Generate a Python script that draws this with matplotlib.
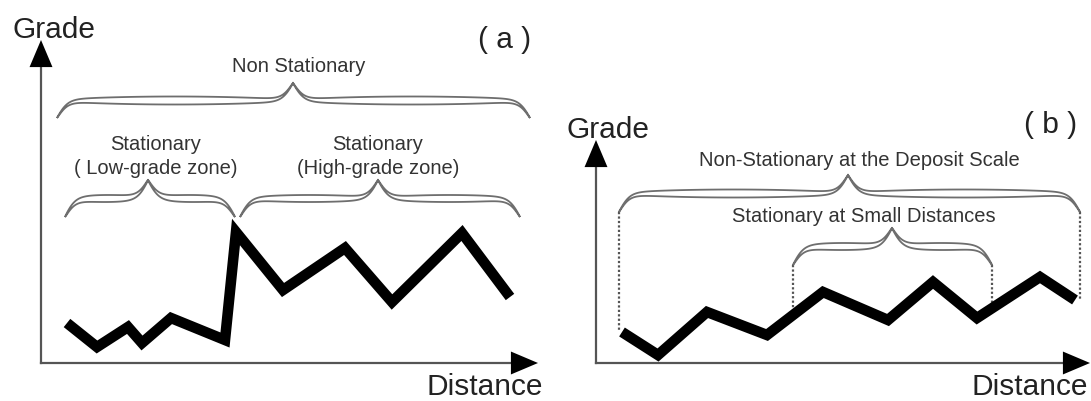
import numpy as np
import matplotlib.pyplot as plt

plt.rcParams['font.family'] = ['Liberation Sans', 'DejaVu Sans']

# grade profiles (distance, grade in arbitrary units)
a_dist = [26, 56, 87, 101, 130, 184, 195, 242, 304, 351, 421, 469]
a_grade = [40, 16, 36, 20, 45, 23, 131, 73, 115, 61, 130, 66]

b_dist = [26, 62, 111, 171, 227, 292, 337, 381, 444, 479]
b_grade = [31, 8, 51, 28, 71, 43, 81, 45, 86, 63]

# labelled zones: (start, end, tip) along distance
a_zones = [(16, 489, 252), (24, 194, 107), (199, 479, 337)]
b_zones = [(23, 484, 252), (197, 396, 296)]

TXT = '#333333'
BRACE = '#6e6e6e'


def brace(ax, x0, x1, xm, y_end, y_tip, thick=6):
    # outlined curly brace, tip pointing up
    u = np.linspace(0, 1, 300)
    half = max(xm - x0, x1 - xm)
    k = half / 5.5
    s = 1 / (1 + np.exp(-k * u)) + 1 / (1 + np.exp(-k * (u - 1))) - 0.5
    s = (s - s.min()) / (s.max() - s.min())
    y = y_end + s * (y_tip - y_end)
    th = thick * np.sin(np.pi * u) ** 0.6
    xl = x0 + u * (xm - x0)
    xr = x1 - u * (x1 - xm)
    xs = np.concatenate([xl, xr[::-1], xr, xl[::-1]])
    ys = np.concatenate([y + th / 2, (y + th / 2)[::-1], y - th / 2, (y - th / 2)[::-1]])
    ax.fill(xs, ys, facecolor='white', edgecolor=BRACE, lw=1.3, clip_on=False, zorder=3)


def axes_arrows(ax, xtip, ytip, head=27):
    ax.plot([0, 0], [0, ytip - head + 2], color='#555555', lw=1.6, clip_on=False)
    ax.plot([0, xtip - head + 2], [0, 0], color='#555555', lw=1.6, clip_on=False)
    ap = dict(width=0.01, headwidth=16.5, headlength=19.5, facecolor='black',
              edgecolor='none', shrink=0)
    ax.annotate('', xy=(0, ytip), xytext=(0, ytip - head), arrowprops=ap, annotation_clip=False)
    ax.annotate('', xy=(xtip, 0), xytext=(xtip - head, 0), arrowprops=ap, annotation_clip=False)


fig = plt.figure(figsize=(10.91, 4.01), dpi=100)

# ---- panel (a)
ax1 = fig.add_axes([0, 0, 545 / 1091, 1])
ax1.set_xlim(-41, 504)
ax1.set_ylim(-38, 363)
ax1.axis('off')
axes_arrows(ax1, 497, 323)
ax1.plot(a_dist, a_grade, color='black', lw=7.6, solid_joinstyle='miter',
         solid_capstyle='butt', zorder=4)
for x0, x1, xm in a_zones[:1]:
    brace(ax1, x0, x1, xm, 245, 280, thick=8)
for x0, x1, xm in a_zones[1:]:
    brace(ax1, x0, x1, xm, 146, 183, thick=7)
ax1.text(12.5, 333, 'Grade', fontsize=21.5, color='#222222', ha='center', va='center')
ax1.text(464, 323, '( a )', fontsize=21.5, color='#222222', ha='center', va='center')
ax1.text(444, -24, 'Distance', fontsize=21.5, color='#222222', ha='center', va='center')
ax1.text(258, 297, 'Non Stationary', fontsize=14.5, color=TXT, ha='center', va='center')
ax1.text(115, 219, 'Stationary', fontsize=14.5, color=TXT, ha='center', va='center')
ax1.text(115, 195, '( Low-grade zone)', fontsize=14.5, color=TXT, ha='center', va='center')
ax1.text(337, 219, 'Stationary', fontsize=14.5, color=TXT, ha='center', va='center')
ax1.text(337, 195, '(High-grade zone)', fontsize=14.5, color=TXT, ha='center', va='center')

# ---- panel (b)
ax2 = fig.add_axes([545 / 1091, 0, 546 / 1091, 1])
ax2.set_xlim(-51, 495)
ax2.set_ylim(-38, 363)
ax2.axis('off')
axes_arrows(ax2, 494, 223, head=28)
ax2.plot(b_dist, b_grade, color='black', lw=7.6, solid_joinstyle='miter',
         solid_capstyle='butt', zorder=4)
brace(ax2, *b_zones[0], 151, 188, thick=8)
brace(ax2, *b_zones[1], 98, 135, thick=7)
# dotted drop lines from brace ends to the profile
for (x0, x1, xm), ytop in zip(b_zones, [151, 98]):
    for xe in (x0, x1):
        ax2.plot([xe, xe], [ytop, np.interp(xe, b_dist, b_grade)], color='#555555',
                 lw=1.6, ls=(0, (1, 1)), zorder=2, clip_on=False)
ax2.text(11.5, 233, 'Grade', fontsize=21.5, color='#222222', ha='center', va='center')
ax2.text(454.5, 238, '( b )', fontsize=21.5, color='#222222', ha='center', va='center')
ax2.text(376, -24, 'Distance', fontsize=21.5, color='#222222', ha='left', va='center')
ax2.text(263.5, 203, 'Non-Stationary at the Deposit Scale', fontsize=14.5, color=TXT,
         ha='center', va='center')
ax2.text(267.5, 146, 'Stationary at Small Distances', fontsize=14.5, color=TXT,
         ha='center', va='center')

fig.savefig('out.png', dpi=100)
